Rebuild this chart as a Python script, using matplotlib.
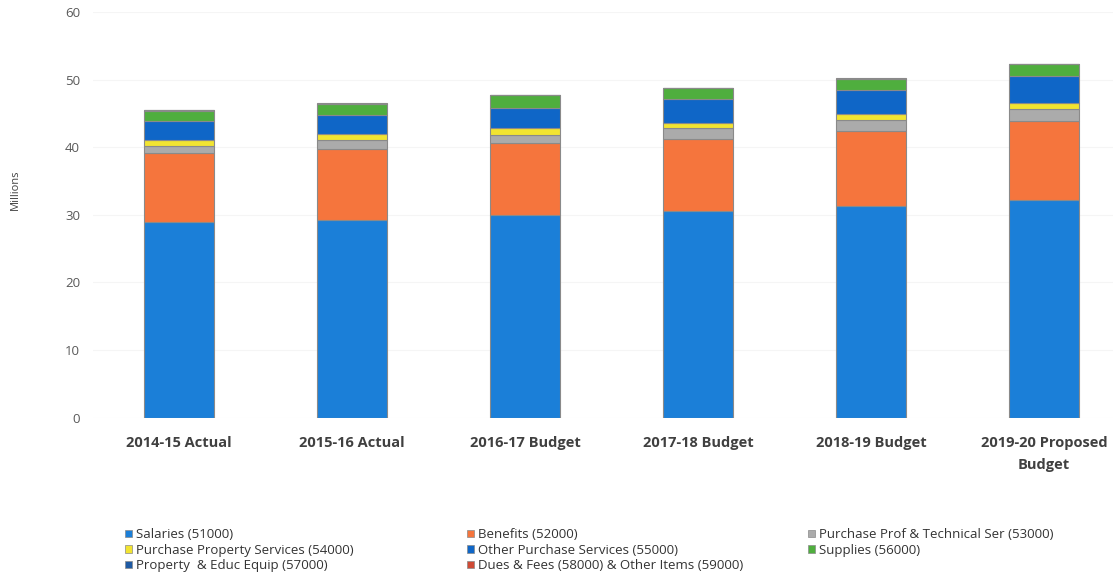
import matplotlib
matplotlib.use("Agg")
import matplotlib.pyplot as plt
from matplotlib.patches import Patch
import numpy as np

categories = ["2014-15 Actual", "2015-16 Actual", "2016-17 Budget",
              "2017-18 Budget", "2018-19 Budget", "2019-20 Proposed\nBudget"]

salaries = [29.0, 29.3, 30.0, 30.6, 31.3, 32.2]
benefits = [10.1, 10.5, 10.6, 10.6, 11.1, 11.7]
prof_tech = [1.1, 1.3, 1.2, 1.6, 1.7, 1.7]
property_services = [0.9, 0.9, 1.0, 0.8, 0.8, 0.9]
other_purchase = [2.8, 2.8, 3.0, 3.5, 3.6, 4.0]
supplies = [1.5, 1.6, 1.9, 1.6, 1.6, 1.8]
property_equip = [0.05, 0.05, 0.05, 0.05, 0.05, 0.05]
dues_other = [0.03, 0.03, 0.03, 0.03, 0.03, 0.03]

series = [
    ("Salaries (51000)", salaries, "#1b7fd8"),
    ("Benefits (52000)", benefits, "#f5753d"),
    ("Purchase Prof & Technical Ser (53000)", prof_tech, "#ababab"),
    ("Purchase Property Services (54000)", property_services, "#f2e431"),
    ("Other Purchase Services (55000)", other_purchase, "#0f66c7"),
    ("Supplies (56000)", supplies, "#4fae3e"),
    ("Property  & Educ Equip (57000)", property_equip, "#1e5aa3"),
    ("Dues & Fees (58000) & Other Items (59000)", dues_other, "#cf4a35"),
]

W, H = 1113, 579
fig = plt.figure(figsize=(W / 100, H / 100), dpi=100)
ax = fig.add_axes([92.5 / W, 1 - 417.7 / H, 1 - 92.5 / W, (417.7 - 12) / H])

x = np.arange(len(categories))
bottom = np.zeros(len(categories))
handles = {}
for name, vals, color in series:
    vals = np.array(vals)
    ax.bar(x, vals, width=0.405, bottom=bottom, color=color,
           edgecolor="#8a8a8a", linewidth=0.8, zorder=3)
    bottom += vals
    handles[name] = Patch(facecolor=color, edgecolor="#8a8a8a", linewidth=0.5)

ax.set_ylim(0, 60)
ax.set_xlim(-0.5, (W - 92.5) / 173.0 - 0.5)
ax.set_yticks(range(0, 61, 10))
ax.set_xticks(x)
ax.set_xticklabels(categories, fontfamily="Open Sans", fontweight="bold",
                   fontsize=10.5, color="#404040", linespacing=1.75)
for lbl in ax.get_yticklabels():
    lbl.set_fontfamily("Open Sans")
    lbl.set_fontsize(9.5)
    lbl.set_color("#595959")
ax.tick_params(axis="both", length=0)
ax.tick_params(axis="y", pad=9)
ax.tick_params(axis="x", pad=13)
for s in ax.spines.values():
    s.set_visible(False)
ax.grid(axis="y", color="#f5f5f5", linewidth=0.8, zorder=0)
ax.set_axisbelow(True)

fig.text(15 / W, 1 - 190 / H, "Millions", rotation=90, ha="center", va="center",
         fontfamily="Open Sans", fontsize=8, color="#404040")

cols = [
    (["Salaries (51000)", "Purchase Property Services (54000)", "Property  & Educ Equip (57000)"], 125),
    (["Benefits (52000)", "Other Purchase Services (55000)", "Dues & Fees (58000) & Other Items (59000)"], 467),
    (["Purchase Prof & Technical Ser (53000)", "Supplies (56000)"], 808),
]
for names, px in cols:
    fig.legend([handles[n] for n in names], names, loc="upper left",
               bbox_to_anchor=(px / W, 1 - 528 / H), frameon=False,
               prop={"family": "Open Sans", "size": 9.5},
               handlelength=0.5, handleheight=0.5, handletextpad=0.35,
               labelspacing=0.2, borderaxespad=0, borderpad=0, labelcolor="#333333")

fig.savefig("out.png", dpi=100)
